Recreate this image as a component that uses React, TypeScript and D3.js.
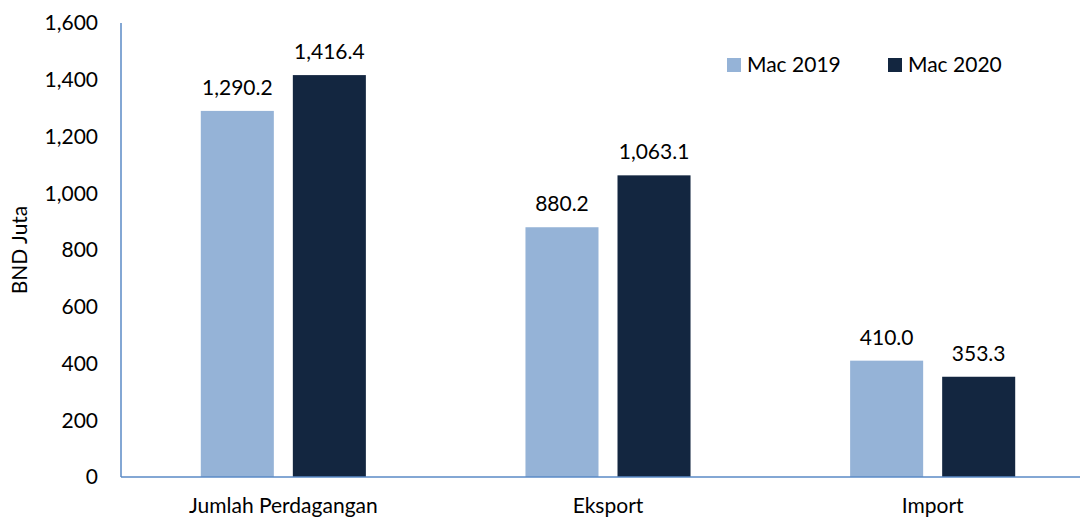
import React, { useEffect, useRef } from 'react';
import * as d3 from 'd3';

// chart data
const categories: string[] = ['Jumlah Perdagangan', 'Eksport', 'Import'];
const seriesNames: string[] = ['Mac 2019', 'Mac 2020'];
const mac2019: number[] = [1290.2, 880.2, 410.0];
const mac2020: number[] = [1416.4, 1063.1, 353.3];
const yTicks: number[] = [0, 200, 400, 600, 800, 1000, 1200, 1400, 1600];

const colors = ['#95B3D7', '#132640'];
const axisColor = '#5A8AC6';
const fontFamily = 'Lato, "Open Sans", sans-serif';
const fontSize = 21;

const App: React.FC = () => {
  const svgRef = useRef<SVGSVGElement>(null);

  useEffect(() => {
    if (!svgRef.current) return;
    const svg = d3.select(svgRef.current);
    svg.selectAll('*').remove();

    const width = 1080;
    const height = 518;
    const margin = { top: 23, right: -15, bottom: 41, left: 121 };

    const x0 = d3.scaleBand<string>()
      .domain(categories)
      .range([margin.left, width - margin.right])
      .paddingInner(0)
      .paddingOuter(0);

    const x1 = d3.scaleBand<string>()
      .domain(seriesNames)
      .range([0, x0.bandwidth()])
      .paddingInner(0.2065)
      .paddingOuter(0.867);

    const y = d3.scaleLinear()
      .domain([0, 1600])
      .range([height - margin.bottom, margin.top]);

    const g = svg.append('g').style('font-family', fontFamily);

    // y tick labels
    g.selectAll('.ytick')
      .data(yTicks)
      .enter()
      .append('text')
      .attr('x', 98)
      .attr('y', d => y(d))
      .attr('dy', '0.35em')
      .attr('text-anchor', 'end')
      .attr('font-size', fontSize)
      .attr('fill', '#000')
      .text(d => d3.format(',')(d));

    // y axis title
    g.append('text')
      .attr('transform', `translate(27, ${(y(0) + y(1600)) / 2}) rotate(-90)`)
      .attr('text-anchor', 'middle')
      .attr('font-size', fontSize)
      .attr('fill', '#000')
      .text('BND Juta');

    const values = [mac2019, mac2020];

    // bars
    categories.forEach((cat, ci) => {
      seriesNames.forEach((s, si) => {
        const v = values[si][ci];
        const bx = (x0(cat) ?? 0) + (x1(s) ?? 0);
        g.append('rect')
          .attr('x', bx)
          .attr('y', y(v))
          .attr('width', x1.bandwidth())
          .attr('height', y(0) - y(v))
          .attr('fill', colors[si]);
        g.append('text')
          .attr('x', bx + x1.bandwidth() / 2)
          .attr('y', y(v) - 16)
          .attr('text-anchor', 'middle')
          .attr('font-size', fontSize)
          .attr('fill', '#000')
          .text(d3.format(',.1f')(v));
      });
    });

    // axes lines
    g.append('line')
      .attr('x1', margin.left)
      .attr('x2', margin.left)
      .attr('y1', y(1600))
      .attr('y2', y(0))
      .attr('stroke', axisColor)
      .attr('stroke-width', 1.5);
    g.append('line')
      .attr('x1', margin.left)
      .attr('x2', width)
      .attr('y1', y(0))
      .attr('y2', y(0))
      .attr('stroke', axisColor)
      .attr('stroke-width', 1.5);

    // category labels
    g.selectAll('.xlab')
      .data(categories)
      .enter()
      .append('text')
      .attr('x', d => (x0(d) ?? 0) + x0.bandwidth() / 2)
      .attr('y', 513)
      .attr('text-anchor', 'middle')
      .attr('font-size', fontSize)
      .attr('fill', '#000')
      .text(d => d);

    // legend
    const legendX = [727, 888];
    seriesNames.forEach((s, i) => {
      g.append('rect')
        .attr('x', legendX[i])
        .attr('y', 58)
        .attr('width', 14)
        .attr('height', 14)
        .attr('fill', colors[i]);
      g.append('text')
        .attr('x', legendX[i] + 20)
        .attr('y', 65)
        .attr('dy', '0.35em')
        .attr('font-size', fontSize)
        .attr('fill', '#000')
        .text(s);
    });
  }, []);

  return (
    <div style={{ position: 'absolute', left: 0, top: 0 }}>
      <svg ref={svgRef} width={1080} height={518} style={{ display: 'block', background: '#fff' }} />
    </div>
  );
};

export default App;
